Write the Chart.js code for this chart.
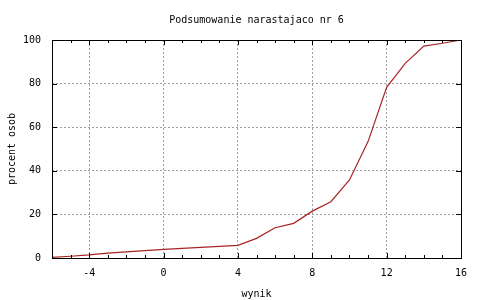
<!DOCTYPE html>
<html>
<head>
<meta charset="utf-8">
<script src="https://cdn.jsdelivr.net/npm/chart.js@4/dist/chart.umd.min.js"></script>
<style>
  html, body { margin: 0; padding: 0; background: #fff; }
  canvas { display: block; }
</style>
</head>
<body>
<canvas id="chart" width="480" height="300"></canvas>
<script>
const wynik = [-6, -5, -4, -3, -2, -1, 0, 1, 2, 3, 4, 5, 6, 7, 8, 9, 10, 11, 12, 13, 14, 15, 16];
const procent = [0.3, 0.8, 1.4, 2.2, 2.8, 3.4, 4.0, 4.4, 4.9, 5.3, 5.8, 9.0, 13.9, 15.9, 21.5, 25.8, 35.8, 53.4, 78.3, 89.3, 97.2, 98.5, 100];
const xTicks = [-4, 0, 4, 8, 12, 16];
const yTicks = [0, 20, 40, 60, 80, 100];

const FONT = { family: 'DejaVu Sans Mono', size: 10 };

// gnuplot-style frame with inward ticks
const framePlugin = {
  id: 'frame',
  afterDatasetsDraw(chart) {
    const { ctx, chartArea: a, scales } = chart;
    ctx.save();
    ctx.strokeStyle = '#000';
    ctx.lineWidth = 1;
    ctx.strokeRect(Math.round(a.left) + 0.5, Math.round(a.top) + 0.5,
      Math.round(a.right - a.left), Math.round(a.bottom - a.top));
    ctx.beginPath();
    for (let v = scales.x.min; v <= scales.x.max; v++) {
      const px = Math.round(scales.x.getPixelForValue(v)) + 0.5;
      const len = xTicks.includes(v) ? 5 : 3;
      ctx.moveTo(px, a.bottom); ctx.lineTo(px, a.bottom - len);
      ctx.moveTo(px, a.top); ctx.lineTo(px, a.top + len);
    }
    yTicks.forEach(v => {
      const py = Math.round(scales.y.getPixelForValue(v)) + 0.5;
      ctx.moveTo(a.left, py); ctx.lineTo(a.left + 5, py);
      ctx.moveTo(a.right, py); ctx.lineTo(a.right - 5, py);
    });
    ctx.stroke();
    ctx.restore();
  }
};

new Chart(document.getElementById('chart'), {
  type: 'line',
  data: {
    datasets: [{
      data: wynik.map((x, i) => ({ x, y: procent[i] })),
      borderColor: '#a82424',
      borderWidth: 1.2,
      pointRadius: 0,
      tension: 0,
      fill: false
    }]
  },
  options: {
    responsive: false,
    devicePixelRatio: 1,
    animation: false,
    layout: { padding: { right: 19, left: 0, bottom: 0 } },
    plugins: {
      legend: { display: false },
      tooltip: { enabled: false },
      title: {
        display: true,
        fullSize: false,
        text: 'Podsumowanie narastajaco nr 6',
        color: '#000',
        font: { ...FONT, weight: 'normal' },
        padding: { top: 14, bottom: 14 }
      }
    },
    scales: {
      x: {
        type: 'linear',
        min: -6,
        max: 16,
        afterBuildTicks: s => { s.ticks = xTicks.map(v => ({ value: v })); },
        afterFit: s => { s.height = 42; },
        ticks: { color: '#000', font: FONT, padding: 9, maxRotation: 0 },
        grid: {
          color: c => (c.tick && c.tick.value === 16) ? 'rgba(0,0,0,0)' : '#a0a0a0',
          tickLength: 0,
          drawTicks: false
        },
        border: { display: false, dash: [2, 2] },
        title: { display: true, text: 'wynik', color: '#000', font: FONT, padding: { top: 4, bottom: 0 } }
      },
      y: {
        min: 0,
        max: 100,
        afterBuildTicks: s => { s.ticks = yTicks.map(v => ({ value: v })); },
        afterFit: s => { s.width = 52; },
        ticks: { color: '#000', font: FONT, padding: 11 },
        grid: {
          color: c => (c.tick && (c.tick.value === 0 || c.tick.value === 100)) ? 'rgba(0,0,0,0)' : '#a0a0a0',
          tickLength: 0,
          drawTicks: false
        },
        border: { display: false, dash: [2, 2] },
        title: { display: true, text: 'procent osob', color: '#000', font: FONT, padding: { top: 6, bottom: 0 } }
      }
    }
  },
  plugins: [framePlugin]
});
</script>
</body>
</html>
